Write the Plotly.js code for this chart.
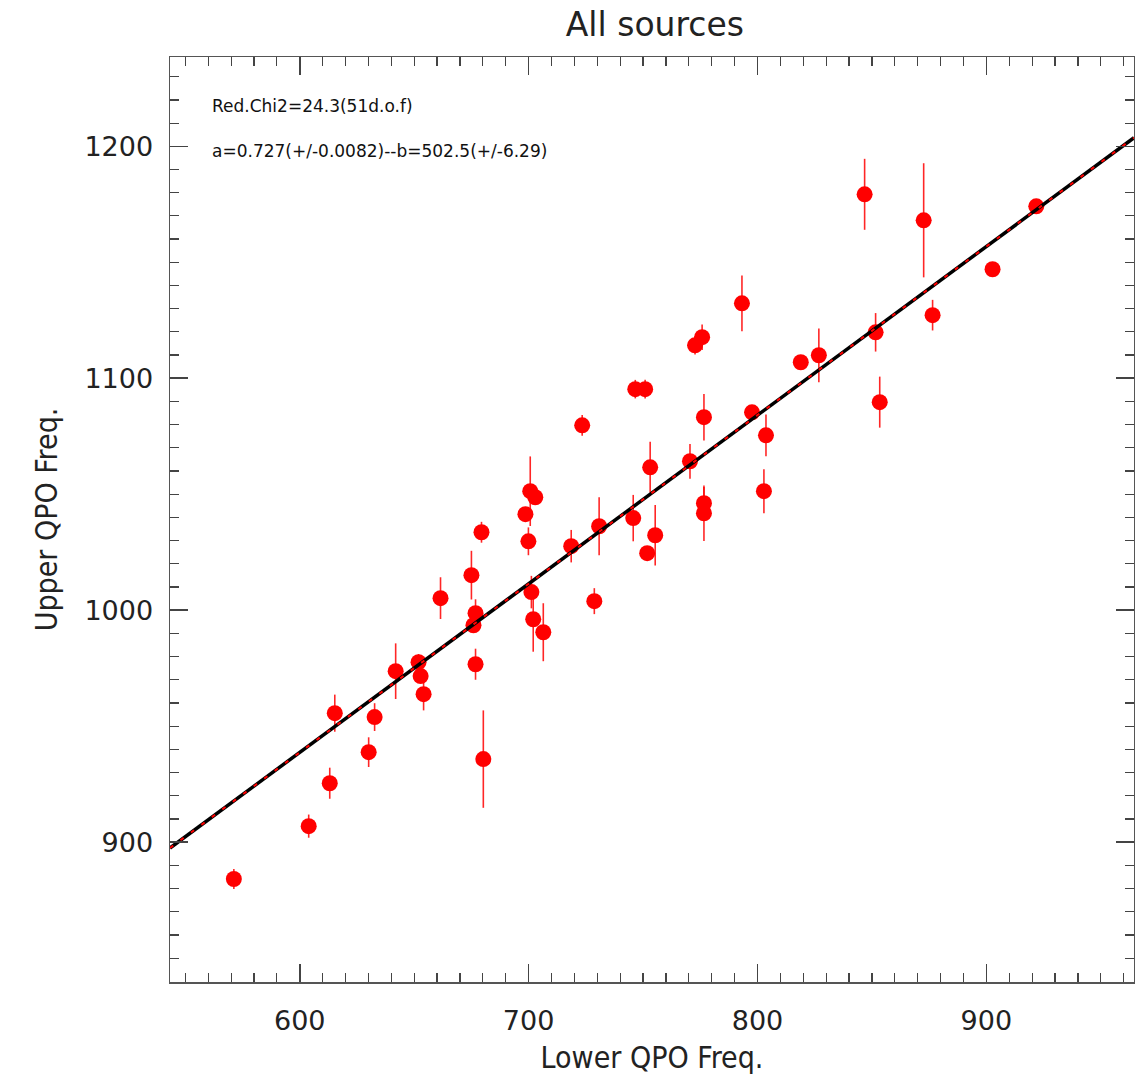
<!DOCTYPE html>
<html>
<head>
<meta charset="utf-8">
<script src="https://cdn.plot.ly/plotly-3.0.1.min.js"></script>
<style>html,body{margin:0;padding:0;background:#fff;}#chart{width:1135px;height:1083px;}</style>
</head>
<body>
<div id="chart"></div>
<script>
// Lower QPO frequency (x), upper QPO frequency (y) and the y error
const lowerQPO = [571.2, 603.9, 613.1, 615.3, 630.1, 632.7, 641.9, 651.9, 652.8, 654.1,
  661.5, 675.0, 675.9, 676.8, 676.8, 679.4, 680.2, 698.6, 699.9, 700.7,
  702.9, 701.2, 702.0, 706.4, 718.6, 723.4, 728.7, 730.8, 745.7, 746.6,
  750.9, 751.8, 753.1, 755.3, 770.5, 772.7, 775.8, 776.6, 776.6, 776.6,
  793.2, 797.6, 802.8, 803.7, 818.9, 826.8, 846.8, 851.6, 853.4, 872.6,
  876.5, 902.7, 921.8];
const upperQPO = [884.1, 906.9, 925.4, 955.6, 938.8, 953.9, 973.7, 977.6, 971.6, 963.8,
  1005.2, 1015.1, 993.5, 998.7, 976.7, 1033.6, 935.8, 1041.4, 1029.7, 1051.3,
  1048.7, 1007.8, 996.1, 990.5, 1027.6, 1079.7, 1003.9, 1036.2, 1039.7, 1095.3,
  1095.3, 1024.6, 1061.6, 1032.3, 1064.2, 1114.2, 1117.7, 1083.2, 1046.1, 1041.8,
  1132.3, 1085.3, 1051.3, 1075.4, 1106.9, 1109.9, 1179.3, 1119.8, 1089.7, 1168.1,
  1127.2, 1147.0, 1174.1];
const upperErr = [4.3, 5, 6.7, 8, 6.4, 6, 12, 3.5, 2, 7,
  9, 10.5, 2, 6, 6.7, 4.5, 21, 2.5, 6, 15,
  3, 7, 14, 12.5, 7, 4.5, 5.6, 12.5, 10, 4,
  4, 1.5, 11, 13, 7.5, 4, 5.5, 10, 7, 12,
  12, 1.5, 9.5, 9, 1.5, 11.6, 15.3, 8.3, 11, 24.6,
  6.6, 2, 2];

// linear fit parameters shown on the chart
const fitA = 0.727, fitB = 502.5;
const fitX = [543.3, 964.5];
const fitY = fitX.map(v => fitA * v + fitB);

const xRange = [543.3, 964.5];
const yRange = [839.7, 1238.5];

const tickFont = {family: 'DejaVu Sans, sans-serif', size: 27, color: '#222'};
const titleFont = {family: 'Liberation Sans Narrow, DejaVu Sans Condensed, sans-serif', size: 30, color: '#222'};

const traces = [
  {x: lowerQPO, y: upperQPO, type: 'scatter', mode: 'markers',
   marker: {color: '#ff0000', size: 16},
   error_y: {type: 'data', array: upperErr, visible: true, color: 'rgba(255,0,0,0.85)', thickness: 1.6, width: 0},
   hoverinfo: 'x+y', showlegend: false},
  {x: fitX, y: fitY, type: 'scatter', mode: 'lines',
   line: {color: '#000000', width: 3.5}, showlegend: false},
  {x: fitX, y: fitY, type: 'scatter', mode: 'lines',
   line: {color: '#ff0000', width: 2, dash: '4px,9px'}, showlegend: false}
];

const layout = {
  width: 1135, height: 1083,
  margin: {l: 170, r: 1, t: 57, b: 101},
  paper_bgcolor: '#ffffff', plot_bgcolor: '#ffffff',
  title: {text: 'All sources', x: 0.577, xanchor: 'center', y: 0.977, yanchor: 'middle',
          font: {family: 'DejaVu Sans, sans-serif', size: 33, color: '#222'}},
  xaxis: {range: xRange, showgrid: false, zeroline: false,
          showline: true, linecolor: '#555', linewidth: 1.5, mirror: 'ticks',
          ticks: 'inside', ticklen: 18, tickwidth: 1.5, tickcolor: '#444',
          tick0: 600, dtick: 100, tickfont: tickFont, ticklabelstandoff: 14,
          minor: {dtick: 10, ticks: 'inside', ticklen: 9, tickwidth: 1.2, tickcolor: '#444', showgrid: false},
          title: {text: 'Lower QPO Freq.', font: titleFont, standoff: 12}},
  yaxis: {range: yRange, showgrid: false, zeroline: false,
          showline: true, linecolor: '#555', linewidth: 1.5, mirror: 'ticks',
          ticks: 'inside', ticklen: 18, tickwidth: 1.5, tickcolor: '#444',
          tick0: 900, dtick: 100, tickfont: tickFont, ticklabelstandoff: 10,
          minor: {dtick: 10, ticks: 'inside', ticklen: 9, tickwidth: 1.2, tickcolor: '#444', showgrid: false},
          title: {text: 'Upper QPO Freq.', font: titleFont, standoff: 18}},
  annotations: [
    {text: 'Red.Chi2=24.3(51d.o.f)', xref: 'paper', yref: 'paper', x: 0.041, y: 0.947,
     xanchor: 'left', yanchor: 'middle', showarrow: false,
     font: {family: 'DejaVu Sans, sans-serif', size: 17, color: '#111'}},
    {text: 'a=0.727(+/-0.0082)--b=502.5(+/-6.29)', xref: 'paper', yref: 'paper', x: 0.041, y: 0.898,
     xanchor: 'left', yanchor: 'middle', showarrow: false,
     font: {family: 'DejaVu Sans, sans-serif', size: 17, color: '#111'}}
  ]
};

Plotly.newPlot('chart', traces, layout, {displayModeBar: false, staticPlot: true});
</script>
</body>
</html>
